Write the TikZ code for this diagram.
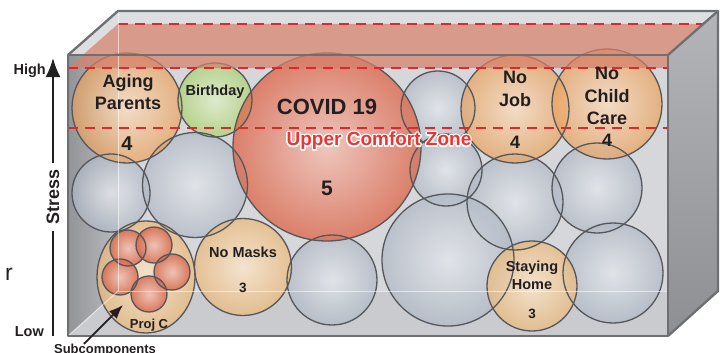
\documentclass[tikz,border=0pt]{standalone}
\usepackage{fontspec}
\setmainfont{Liberation Sans}
\usepackage{tikz}
\usetikzlibrary{arrows.meta,fadings}
\usetikzlibrary{positioning,shapes.geometric}
\definecolor{edgegray}{HTML}{6E6F71}
\definecolor{ballline}{HTML}{55575A}
\definecolor{backwall}{HTML}{D5D7DA}
\definecolor{topgray}{HTML}{DDDEE0}
\definecolor{floorgray}{HTML}{C9CBCE}
\definecolor{wallleft}{HTML}{929498}
\definecolor{wallright}{HTML}{B9BBBE}
\definecolor{sidetop}{HTML}{B3B5B8}
\definecolor{sidebot}{HTML}{8D8F92}
\definecolor{slabred}{HTML}{D7806B}
\definecolor{dashred}{HTML}{E0282C}
\definecolor{zonered}{HTML}{EC3431}
\definecolor{txtblack}{HTML}{231F20}
\definecolor{grayout}{HTML}{B0B9C6}
\definecolor{orangeout}{HTML}{EBA15C}
\definecolor{yellowout}{HTML}{EDB977}
\definecolor{greenout}{HTML}{AAD06F}
\definecolor{covidout}{HTML}{DE5C3C}
\definecolor{subout}{HTML}{D6654A}
\tikzfading[name=glow, inner color=transparent!45, outer color=transparent!100]
\tikzset{
    ball/.style={
           circle,
           fill opacity=0.7,
           inner sep=0pt,
           path picture={\fill[white, fill opacity=1, path fading=glow]
               (path picture bounding box.south west) rectangle (path picture bounding box.north east);},
           },
    ring/.style={
           circle,
           draw=ballline, line width=1.3pt,
           inner sep=0pt,
           },
    grayball/.style={ball, fill=grayout},
    orangeball/.style={ball, fill=orangeout},
    yellowball/.style={ball, fill=yellowout},
    greenball/.style={ball, fill=greenout},
    covidball/.style={ball, fill=covidout},
    subball/.style={ball, fill=subout, fill opacity=0.8},
}
\tikzset{
    bigtxt/.style={font=\bfseries\fontsize{18}{22.5}\selectfont, align=center, text=txtblack, inner sep=0pt},
    midtxt/.style={font=\bfseries\fontsize{14.5}{18}\selectfont, align=center, text=txtblack, inner sep=0pt},
    smalltxt/.style={font=\bfseries\fontsize{13}{15}\selectfont, text=txtblack, inner sep=0pt},
    zonetxt/.style={font=\bfseries\fontsize{19}{19}\selectfont, inner sep=0pt},
    redline/.style={draw=dashred, line width=2pt, dash pattern=on 10pt off 7pt},
    boxedge/.style={draw=edgegray, line width=2.3pt, line join=round},
    backedge/.style={draw=white, draw opacity=0.55, line width=1pt},
}
\begin{document}
\begin{tikzpicture}[x=1pt, y=-1pt]
\useasboundingbox (0,0) rectangle (725,353);
% inside of the box
\fill[backwall] (118,11) rectangle (718,291);
\shade[left color=wallleft, right color=wallright] (68,55) -- (118,11) -- (118,291) -- (68,336) -- cycle;
\fill[floorgray] (68,336) -- (118,291) -- (718,291) -- (668,336) -- cycle;
\fill[topgray] (68,55) -- (118,11) -- (718,11) -- (668,55) -- cycle;
% stress items
\node[grayball, minimum size=78pt] (g1) at (111,193) {};
\node[grayball, minimum size=105pt] (g2) at (195,185) {};
\node[grayball, minimum size=74pt] (g3) at (438,108) {};
\node[grayball, minimum size=72pt] (g4) at (446,170) {};
\node[grayball, minimum size=96pt] (g5) at (515,202) {};
\node[grayball, minimum size=90pt] (g6) at (597,188) {};
\node[grayball, minimum size=90pt] (g7) at (332,280) {};
\node[grayball, minimum size=132pt] (g8) at (448,260) {};
\node[grayball, minimum size=100pt] (g9) at (613,273) {};
\node[orangeball, minimum size=110pt] (aging) at (127,108) {};
\node[greenball, minimum size=74pt] (birthday) at (215,100) {};
\node[covidball, minimum size=188pt] (covid) at (327,147) {};
\node[orangeball, minimum size=108pt] (nojob) at (515,109) {};
\node[orangeball, minimum size=110pt] (nochild) at (607,104) {};
\node[yellowball, minimum size=97pt] (nomasks) at (243,267) {};
\node[yellowball, minimum size=90pt] (staying) at (532,286) {};
\node[yellowball, ellipse, minimum width=98pt, minimum height=112pt] (projc) at (146,277) {};
\node[subball, minimum size=36pt] (s1) at (128,248) {};
\node[subball, minimum size=36pt] (s2) at (154,245) {};
\node[subball, minimum size=36pt] (s3) at (172,272) {};
\node[subball, minimum size=36pt] (s5) at (120,277) {};
\node[subball, minimum size=36pt] (s4) at (149,294) {};
% outlines on top of every fill
\foreach \nm/\d in {g1/78, g2/105, g3/74, g4/72, g5/96, g6/90, g7/90, g8/132, g9/100,
    aging/110, birthday/74, covid/188, nojob/108, nochild/110, nomasks/97, staying/90,
    s1/36, s2/36, s3/36, s4/36, s5/36}
    \node[ring, minimum size=\d pt] (\nm r) at (\nm) {};
\node[ring, ellipse, minimum width=98pt, minimum height=112pt] (projcr) at (projc) {};
% upper zone
\fill[slabred, fill opacity=0.72] (118,24) -- (718,24) -- (668,68) -- (68,68) -- cycle;
\coordinate (bk1) at (118,24);
\coordinate (bk2) at (718,24);
\coordinate (fr1) at (68,68);
\coordinate (fr2) at (668,68);
\coordinate (cz1) at (68,128);
\coordinate (cz2) at (668,128);
\draw[redline] (bk1) -- (bk2);
\draw[redline] (fr1) -- (fr2);
\draw[redline] (cz1) -- (cz2);
\draw[backedge] (118,11) -- (118,291) -- (718,291);
\draw[backedge] (118,291) -- (68,336);
% outside of the box
\shade[top color=sidetop, bottom color=sidebot] (668,55) -- (718,11) -- (718,291) -- (668,336) -- cycle;
\draw[boxedge] (68,55) -- (118,11) -- (718,11) -- (718,291) -- (668,336);
\draw[boxedge] (668,55) -- (718,11);
\draw[boxedge] (68,55) rectangle (668,336);
% labels
\node[bigtxt] (tAging) at (128,92) {Aging\\Parents};
\node[bigtxt, font=\bfseries\fontsize{20}{20}\selectfont] (nAging) at (127,144) {4};
\node[midtxt] (tBirth) at (215,92) {Birthday};
\node[bigtxt, font=\bfseries\fontsize{22}{22}\selectfont] (tCovid) at (327,107) {COVID 19};
\node[bigtxt, font=\bfseries\fontsize{21}{21}\selectfont] (nCovid) at (327,188) {5};
\node[bigtxt] (tJob) at (515,89) {No\\Job};
\node[bigtxt] (nJob) at (515,142) {4};
\node[bigtxt] (tChild) at (607,96) {No\\Child\\Care};
\node[bigtxt] (nChild) at (607,140) {4};
\node[midtxt] (tMasks) at (243,252) {No Masks};
\node[midtxt, font=\bfseries\fontsize{13.5}{13.5}\selectfont] (nMasks) at (243,288) {3};
\node[midtxt] (tHome) at (532,275) {Staying\\Home};
\node[midtxt, font=\bfseries\fontsize{13.5}{13.5}\selectfont] (nHome) at (532,314) {3};
\node[smalltxt] (tProj) at (149,325) {Proj C};
\foreach \a in {0,30,...,330}
    \node[zonetxt, text=white, shift={(\a:1.4)}] (halo\a) at (379,141) {Upper Comfort Zone};
\node[zonetxt, text=zonered] (zone) at (379,141) {Upper Comfort Zone};
% stress axis
\node[bigtxt, rotate=90, inner sep=6pt] (stress) at (53,197) {Stress};
\coordinate (ahigh) at (53,58);
\coordinate (alow) at (53,336);
\draw[-{Latex[length=19pt,width=15pt]}, line width=2pt, txtblack] (stress.east) -- (ahigh);
\draw[line width=2pt, txtblack] (stress.west) -- (alow);
\node[midtxt, anchor=east] (high) at (46,71) {High};
\node[midtxt, anchor=east] (low) at (44,332) {Low};
% subcomponents
\node[smalltxt, anchor=base] (sub) at (105,353.5) {Subcomponents};
\coordinate (subtip) at (123,305);
\draw[-{Latex[length=14pt,width=11pt]}, line width=1.8pt, txtblack] ([xshift=30pt]sub.north west) -- (subtip);
\node[anchor=base east, inner sep=0pt, font=\fontsize{23}{23}\selectfont, text=txtblack] (lr) at (13,280) {r};
\end{tikzpicture}
\end{document}
